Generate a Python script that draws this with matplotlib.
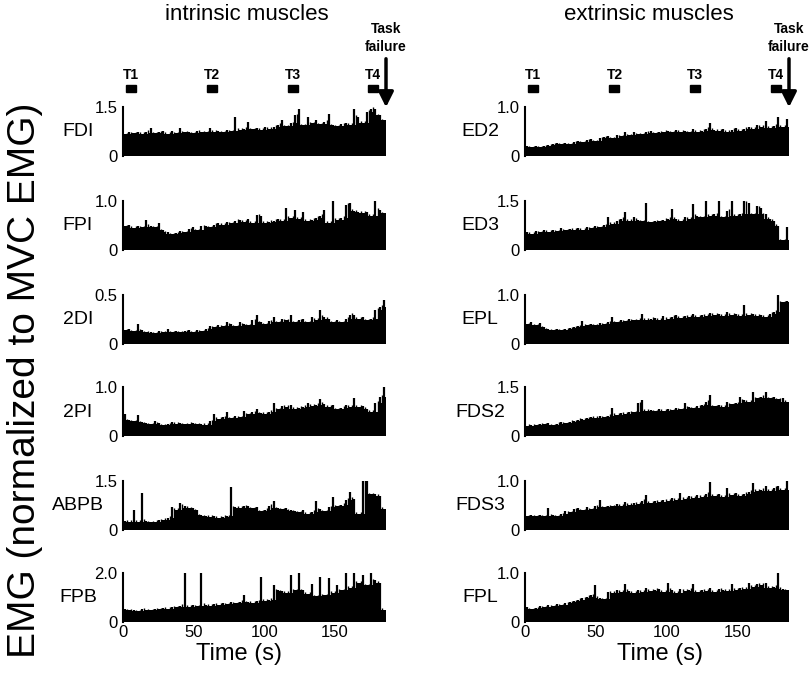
import numpy as np
import matplotlib
matplotlib.use("Agg")
import matplotlib.pyplot as plt
from matplotlib.transforms import blended_transform_factory

plt.rcParams['font.family'] = ['Liberation Sans', 'DejaVu Sans']

# EMG envelope in ~3 s bins (0 - 186 s)
FDI = [0.66,0.72,0.70,0.75,0.68,0.74,0.86,0.70,0.72,0.76,0.68,0.78,0.70,0.86,0.72,0.74,0.70,0.78,0.74,0.72,0.86,0.74,0.78,0.72,0.80,0.76,1.18,0.80,0.84,1.05,0.82,0.86,0.80,0.88,0.84,0.90,0.96,1.10,0.92,1.00,1.25,1.45,0.95,1.20,1.00,1.10,0.98,1.05,1.30,0.95,0.92,0.98,1.02,0.96,1.45,1.20,1.02,1.35,1.45,1.45,1.25,1.10]
FPI = [0.48,0.52,0.45,0.50,0.46,0.62,0.50,0.46,0.55,0.40,0.36,0.32,0.34,0.38,0.36,0.42,0.46,0.40,0.48,0.50,0.46,0.52,0.56,0.52,0.58,0.55,0.60,0.62,0.58,0.64,0.56,0.72,0.70,0.56,0.58,0.60,0.64,0.60,0.85,0.66,0.82,0.64,0.78,0.60,0.62,0.66,0.70,0.82,0.56,1.00,0.62,0.66,0.92,0.95,0.80,0.78,0.76,0.78,0.70,1.00,0.82,0.75]
DI2 = [0.14,0.15,0.13,0.20,0.14,0.12,0.12,0.11,0.13,0.12,0.15,0.12,0.13,0.12,0.13,0.14,0.12,0.14,0.13,0.15,0.18,0.17,0.19,0.18,0.22,0.20,0.18,0.22,0.20,0.19,0.24,0.30,0.22,0.20,0.23,0.28,0.22,0.26,0.24,0.30,0.22,0.24,0.26,0.22,0.28,0.25,0.35,0.28,0.26,0.22,0.24,0.22,0.26,0.30,0.30,0.26,0.28,0.24,0.26,0.35,0.38,0.45]
PI2 = [0.45,0.32,0.30,0.42,0.28,0.26,0.24,0.30,0.26,0.22,0.24,0.28,0.25,0.26,0.24,0.25,0.26,0.24,0.25,0.23,0.30,0.45,0.35,0.38,0.50,0.36,0.40,0.38,0.52,0.44,0.48,0.56,0.46,0.45,0.50,0.68,0.55,0.62,0.60,0.64,0.56,0.58,0.60,0.68,0.62,0.64,0.75,0.66,0.60,0.64,0.55,0.58,0.64,0.60,0.78,0.60,0.62,0.56,0.50,0.68,0.80,1.00]
ABPB = [0.28,0.25,0.62,0.26,1.12,0.28,0.24,0.26,0.30,0.32,0.38,0.70,0.62,0.82,0.75,0.68,0.66,0.60,0.45,0.42,0.40,0.42,0.38,0.40,0.42,1.33,0.70,0.68,0.74,0.72,0.66,0.70,0.58,0.62,0.74,0.90,0.66,0.64,0.68,0.60,0.58,0.54,0.62,0.50,0.56,0.90,0.64,0.58,0.70,1.00,0.72,0.78,0.92,1.15,0.96,0.50,1.50,1.50,1.10,1.10,1.05,0.65]
FPB = [0.55,0.48,0.50,0.45,0.52,0.50,0.48,0.55,0.52,0.58,0.55,0.62,0.60,0.66,2.00,0.62,0.68,0.64,2.00,0.70,0.66,0.74,0.70,0.78,0.72,0.80,0.76,0.82,1.10,0.80,0.78,0.84,1.85,0.86,0.90,1.50,1.30,1.25,1.20,1.90,1.30,2.00,1.30,1.15,1.55,1.05,1.85,1.10,1.80,1.20,1.50,1.30,2.00,1.40,2.00,1.60,1.90,1.50,2.00,1.70,1.60,0.50]

ED2 = [0.20,0.18,0.20,0.19,0.21,0.22,0.24,0.26,0.24,0.26,0.25,0.28,0.30,0.28,0.32,0.34,0.30,0.36,0.38,0.40,0.36,0.42,0.40,0.48,0.42,0.50,0.45,0.44,0.48,0.52,0.46,0.48,0.50,0.52,0.48,0.54,0.50,0.52,0.48,0.55,0.50,0.52,0.56,0.68,0.54,0.52,0.56,0.50,0.54,0.58,0.52,0.56,0.60,0.56,0.64,0.60,0.72,0.58,0.62,0.80,0.60,0.75]
ED3 = [0.55,0.50,0.58,0.55,0.60,0.56,0.62,0.58,0.66,0.60,0.64,0.62,0.68,0.62,0.70,0.66,0.74,0.70,0.76,1.00,0.80,0.90,0.95,1.15,0.90,1.00,0.92,0.88,1.45,0.85,0.90,0.88,0.92,0.95,1.25,0.95,0.90,1.00,0.96,1.40,1.05,1.00,1.50,1.05,1.10,1.50,1.00,1.20,1.50,1.05,1.10,1.50,1.45,1.10,1.35,1.30,1.10,0.95,0.90,0.75,0.30,0.70]
EPL = [0.40,0.44,0.38,0.42,0.34,0.30,0.28,0.30,0.28,0.30,0.32,0.34,0.36,0.46,0.38,0.40,0.38,0.42,0.40,0.44,0.55,0.44,0.48,0.46,0.52,0.48,0.50,0.62,0.50,0.52,0.54,0.50,0.58,0.52,0.56,0.60,0.54,0.58,0.56,0.62,0.56,0.60,0.58,0.64,0.60,0.62,0.58,0.66,0.60,0.62,0.58,0.80,0.60,0.62,0.58,0.60,0.56,0.62,0.66,1.00,0.85,0.88]
FDS2 = [0.32,0.35,0.34,0.38,0.36,0.40,0.34,0.38,0.42,0.40,0.44,0.46,0.50,0.52,0.55,0.58,0.56,0.60,0.58,0.62,0.85,0.65,0.70,0.68,0.74,0.72,1.00,1.10,0.78,0.80,0.76,0.84,0.78,0.82,0.80,0.86,0.82,1.00,0.88,0.86,0.92,0.95,1.05,1.25,0.92,0.96,0.90,1.05,0.98,1.00,1.20,1.10,1.05,1.35,1.15,1.20,1.35,1.15,1.20,1.12,1.15,1.05]
FDS3 = [0.28,0.30,0.28,0.30,0.28,0.45,0.30,0.28,0.32,0.38,0.36,0.42,0.44,0.40,0.46,0.42,0.48,0.62,0.46,0.50,0.48,0.54,0.50,0.58,0.52,0.56,0.54,0.60,0.72,0.56,0.60,0.58,0.62,0.60,0.66,0.62,0.75,0.64,0.70,0.66,0.72,0.68,0.74,0.98,0.70,0.74,0.68,0.85,0.72,0.76,0.70,0.74,0.78,0.95,0.80,0.82,0.90,0.80,0.86,0.90,0.82,1.00]
FPL = [0.30,0.26,0.28,0.32,0.30,0.34,0.32,0.36,0.34,0.38,0.40,0.42,0.45,0.48,0.52,0.55,0.75,0.50,0.46,0.62,0.60,0.66,0.62,0.78,0.64,0.60,0.66,0.62,0.70,0.64,0.66,0.68,0.62,0.80,0.66,0.60,0.68,0.64,0.66,0.78,0.62,0.66,0.64,0.70,0.62,0.68,0.66,0.64,0.78,0.66,0.70,0.68,0.80,0.72,0.78,0.76,0.80,0.70,0.72,1.00,0.68,0.65]

intrinsic_names = ['FDI', 'FPI', '2DI', '2PI', 'ABPB', 'FPB']
intrinsic_data = [FDI, FPI, DI2, PI2, ABPB, FPB]
intrinsic_ymax = [1.5, 1.0, 0.5, 1.0, 1.5, 2.0]

extrinsic_names = ['ED2', 'ED3', 'EPL', 'FDS2', 'FDS3', 'FPL']
extrinsic_data = [ED2, ED3, EPL, FDS2, FDS3, FPL]
extrinsic_ymax = [1.0, 1.5, 1.0, 1.5, 1.0, 1.0]

t_end = 186
t_marks = [5.6, 63, 120, 177]
t_mark_labels = ['T1', 'T2', 'T3', 'T4']
xticks = [0, 50, 100, 150]

W, H = 810, 673
fig = plt.figure(figsize=(W / 100, H / 100), dpi=100)

panel_tops = [107, 201, 295, 387, 481, 573]
panel_h = 49


def draw_trace(ax, vals):
    vals = np.asarray(vals)
    edges = np.linspace(0, t_end, len(vals) + 1)
    centers = (edges[:-1] + edges[1:]) / 2
    # solid floor = lowest of each bin and its neighbours, spikes on top
    padded = np.concatenate([[vals[0]], vals, [vals[-1]]])
    floor = np.minimum(np.minimum(padded[:-2], padded[1:-1]), padded[2:])
    ax.stairs(floor, edges, fill=True, color='black', linewidth=0.6)
    ax.vlines(centers, 0, vals, color='black', linewidth=1.6)
    ax.vlines(edges[1:-1], 0, np.minimum(vals[:-1], vals[1:]) + 0.03 * vals.max(),
              color='black', linewidth=1.0)


def column(x0, x1, names, data, ymaxs, title, xlabel_pos):
    axes = []
    for i, (name, vals, ymax) in enumerate(zip(names, data, ymaxs)):
        top = panel_tops[i]
        ax = fig.add_axes([x0 / W, 1 - (top + panel_h) / H, (x1 - x0) / W, panel_h / H])
        draw_trace(ax, vals)
        ax.set_xlim(0, t_end)
        ax.set_ylim(0, ymax)
        for s in ['top', 'right', 'bottom']:
            ax.spines[s].set_visible(False)
        ax.spines['left'].set_linewidth(1.5)
        ax.set_yticks([0, ymax])
        ax.set_yticklabels(['0', f'{ymax:.1f}'], fontsize=12)
        ax.tick_params(axis='y', length=0, pad=4)
        if i == len(names) - 1:
            ax.set_xticks(xticks)
            ax.set_xticklabels([str(v) for v in xticks], fontsize=12)
            ax.tick_params(axis='x', length=0, pad=2)
            ax.set_xlabel('Time (s)', fontsize=17)
            ax.xaxis.set_label_coords(xlabel_pos, -0.42)
        else:
            ax.set_xticks([])
        fig.text((x0 - 45) / W, 1 - (top + 25) / H, name, fontsize=14,
                 ha='center', va='center')
        axes.append(ax)

    # time markers and task failure arrow above the top panel
    top_ax = axes[0]
    tr = blended_transform_factory(top_ax.transData, fig.transFigure)
    for tm, lab in zip(t_marks, t_mark_labels):
        top_ax.add_patch(plt.Rectangle((tm - 3.5, 1 - 92 / H), 7, 7 / H,
                                       transform=tr, color='black', clip_on=False))
        top_ax.text(tm, 1 - 75 / H, lab, transform=tr, fontsize=10,
                    fontweight='bold', ha='center', va='center')
    top_ax.annotate('', xy=(t_end, 1 - 110 / H), xytext=(t_end, 1 - 56 / H),
                    xycoords=tr, textcoords=tr,
                    arrowprops=dict(arrowstyle='-|>,head_length=0.9,head_width=0.45',
                                    color='black', lw=2.5))
    top_ax.text(t_end, 1 - 38 / H, 'Task\nfailure', transform=tr, fontsize=10,
                fontweight='bold', ha='center', va='center', linespacing=1.4)
    fig.text((x0 + x1) / 2 / W - 0.01, 1 - 15 / H, title, fontsize=16,
             ha='center', va='center')


column(123, 386, intrinsic_names, intrinsic_data, intrinsic_ymax, 'intrinsic muscles', 0.44)
column(525, 789, extrinsic_names, extrinsic_data, extrinsic_ymax, 'extrinsic muscles', 0.51)

fig.text(25 / W, 1 - 380 / H, 'EMG (normalized to MVC EMG)', fontsize=28,
         rotation=90, ha='center', va='center')

fig.savefig('out.png', dpi=100)
